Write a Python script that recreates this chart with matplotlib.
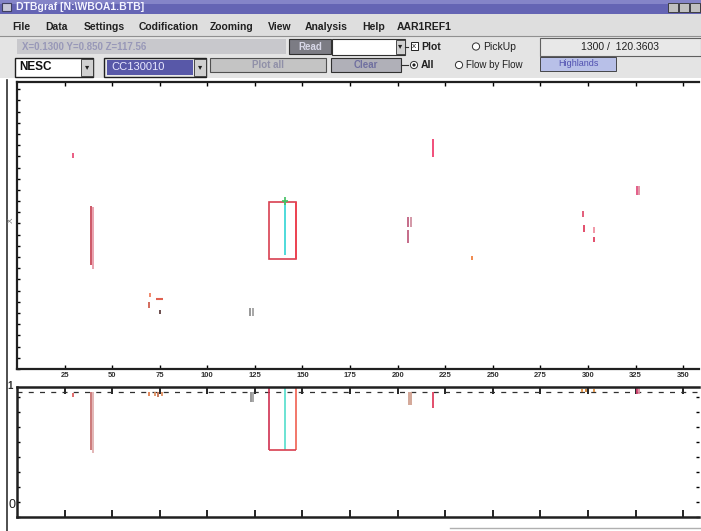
import matplotlib.pyplot as plt
from matplotlib.patches import Rectangle
import numpy as np

W, H = 701, 531

# x positions (flow distance) and vertical extents of the marks, upper panel
top_x = [29.2, 39.1, 40.0, 70.1, 69.6, 74.9, 122.6, 124.2, 141.0,
         218.7, 205.5, 207.0, 205.5, 239.2, 297.4, 298.0, 303.2, 303.4,
         325.8, 326.8]
top_y0 = [73.5, 36.2, 35.0, 25.1, 21.3, 19.2, 18.5, 18.5, 39.7,
          73.9, 49.5, 49.5, 43.9, 38.0, 53.0, 47.7, 44.3, 47.5,
          60.6, 60.6]
top_y1 = [75.3, 56.8, 56.5, 26.5, 23.3, 20.6, 21.3, 21.3, 58.5,
          80.1, 53.0, 53.0, 48.4, 39.4, 55.0, 50.2, 46.0, 49.5,
          63.8, 63.8]
top_col = ['#e8507a', '#c84a5a', '#e89aa8', '#f08060', '#d06050', '#604040',
           '#909090', '#a0a0a0', '#40d8d8',
           '#f04070', '#c06080', '#d090a0', '#c06080', '#f08040',
           '#e05070', '#e04060', '#e04060', '#f090a0',
           '#e05080', '#e090a0']

# short horizontal dash next to the orange cluster
dash_x0, dash_x1, dash_y = 72.8, 76.9, 24.4

# highlighted section (box) shown in both panels
box_x0, box_x1 = 132.6, 146.8
box_top_y0, box_top_y1 = 38.3, 58.2
box_bot_y0 = 51.5
cyan_x = 141.0

# lower panel marks hanging from the reference line
ref_y = 96.2
bot_x = [29.2, 39.1, 40.0, 69.5, 72.6, 74.0, 76.0, 123.0, 124.2, 141.0,
         206.0, 207.2, 218.7, 297.0, 299.0, 303.0, 325.8, 326.6]
bot_y0 = [92.3, 51.5, 49.0, 93.0, 93.0, 92.0, 93.0, 88.5, 88.5, 51.5,
          86.0, 86.0, 84.0, 96.0, 96.0, 96.0, 95.0, 95.0]
bot_y1 = [95.4, 96.2, 96.2, 96.2, 96.2, 96.2, 96.2, 96.2, 96.2, 100.0,
          96.2, 96.2, 96.2, 98.5, 98.5, 98.5, 100.0, 100.0]
bot_col = ['#e06060', '#c87070', '#e0b0b0', '#e08050', '#e09060', '#c07050',
           '#e09060', '#909090', '#a0a0a0', '#60e0d0',
           '#d0a090', '#d0a090', '#e04060', '#e09040', '#d08030', '#e09040',
           '#d04070', '#e090a0']

x_ticks = [25, 50, 75, 100, 125, 150, 175, 200, 225, 250, 275, 300, 325, 350]
x_labels = ['25', '50', '75', '100', '125', '150', '175', '200', '225',
            '250', '275', '300', '325', '350']

plt.rcParams['font.family'] = ['Liberation Sans', 'DejaVu Sans']

fig = plt.figure(figsize=(W / 100, H / 100), dpi=100)
fig.patch.set_facecolor('white')

# window chrome drawn in pixel units
ui = fig.add_axes([0, 0, 1, 1])
ui.set_xlim(0, W)
ui.set_ylim(H, 0)
ui.axis('off')


def box(x0, y0, x1, y1, fc, ec='none', lw=0.8):
    ui.add_patch(Rectangle((x0, y0), x1 - x0, y1 - y0, facecolor=fc,
                           edgecolor=ec, linewidth=lw))


def label(x, y, s, size=7.5, color='#202020', weight='bold', ha='left'):
    ui.text(x, y, s, fontsize=size, color=color, weight=weight, ha=ha,
            va='center')


# title bar
box(0, 0, W, 14, '#6464b4')
box(0, 0, W, 4, '#8484c8')
box(2, 3, 11, 11, '#c8c8d8', '#404060')
label(16, 7.5, 'DTBgraf [N:\\WBOA1.BTB]', size=7.5, color='#f4f4ff')
for bx in (668, 679, 690):
    box(bx, 3, bx + 10, 12, '#c0c0c0', '#303030', 0.6)

# menu bar
box(0, 14, W, 36, '#dedede')
ui.plot([0, W], [35.5, 35.5], color='#909090', lw=0.8)
menu = [('File', 12), ('Data', 45), ('Settings', 84), ('Codification', 139),
        ('Zooming', 210), ('View', 268), ('Analysis', 305), ('Help', 362),
        ('AAR1REF1', 397)]
for name, mx in menu:
    label(mx, 27, name, size=7.5)

# toolbar rows
box(0, 36, W, 78, '#e4e4e4')
box(17, 39, 286, 54, '#c8c8cc')
label(22, 46.5, 'X=0.1300 Y=0.850 Z=117.56', size=7, color='#9898b8')
box(289, 39, 331, 54, '#7c7c84', '#303030')
label(310, 46.5, 'Read', size=7, color='#d8d8e8', ha='center')
box(332, 39, 405, 55, 'white', '#303030')
box(396, 40, 405, 54, '#d0d0d0', '#303030', 0.6)
label(400.5, 46.5, '\u25be', size=6, ha='center')
ui.plot([405, 408], [47, 47], color='#303030', lw=0.8)
box(411, 42, 418, 50, 'white', '#202020', 0.7)
label(414.5, 46, 'x', size=6, ha='center', weight='normal')
label(421, 46.5, 'Plot', size=7.5)
ui.add_patch(plt.Circle((476, 46.5), 3.6, facecolor='white',
                        edgecolor='#303030', lw=0.7))
label(483, 46.5, 'PickUp', size=7.5, weight='normal')
box(540, 38, W, 56, '#e8e8e8', '#606060')
label(620, 46.5, '1300 /  120.3603', size=7.5, weight='normal', ha='center')

box(15, 58, 93, 77, 'white', '#202020', 1.0)
label(19, 67.5, 'NESC', size=8.5, color='#101010')
box(81, 59, 93, 76, '#d0d0d0', '#303030', 0.6)
label(87, 67.5, '\u25be', size=6, ha='center')
box(104, 58, 206, 77, '#e8e8e8', '#202020', 1.0)
box(107, 60, 193, 75, '#5858a8')
label(111, 67.5, 'CC130010', size=8, color='#e8e8ff', weight='normal')
box(194, 59, 206, 76, '#d0d0d0', '#303030', 0.6)
label(200, 67.5, '\u25be', size=6, ha='center')
box(210, 58, 326, 72, '#c4c4c4', '#505050')
label(268, 65, 'Plot all', size=7, color='#9090a8', ha='center')
box(331, 58, 401, 72, '#b0b0b8', '#303030')
label(366, 65, 'Clear', size=7, color='#7070a0', ha='center')
ui.plot([401, 408], [65, 65], color='#303030', lw=0.8)
ui.add_patch(plt.Circle((414, 65), 3.6, facecolor='white',
                        edgecolor='#303030', lw=0.7))
ui.add_patch(plt.Circle((414, 65), 1.6, facecolor='#202020'))
label(421, 65, 'All', size=7.5)
ui.add_patch(plt.Circle((459, 65), 3.6, facecolor='white',
                        edgecolor='#303030', lw=0.7))
label(466, 65, 'Flow by Flow', size=7, weight='normal')
box(540, 57, 616, 71, '#b8c0e8', '#303030', 0.6)
label(578, 64, 'Highlands', size=6.5, color='#5050b0', ha='center',
      weight='normal')

# outer frame line on the left and side texts
ui.plot([6.5, 6.5], [80, H], color='#303030', lw=1.2)
ui.text(11, 220, 'X', fontsize=6, color='#707070', ha='center', va='center',
        rotation=90)
ui.text(10, 386, '1', fontsize=7, color='#303030', ha='center', va='center',
        weight='bold')
ui.text(12, 505, '0', fontsize=9, color='#202020', ha='center', va='center')
ui.plot([450, W], [528, 528], color='#b0b0b0', lw=1.0)


def ax_rect(left, top, right, bottom):
    return [left / W, 1 - bottom / H, (right - left) / W, (bottom - top) / H]


xmax = (699 - 16.4) / 1.905

# upper panel
ax = fig.add_axes(ax_rect(17, 82, 699, 369))
ax.set_facecolor('none')
ax.set_xlim(0, xmax)
ax.set_ylim(0, 100)
ax.vlines(top_x, top_y0, top_y1, colors=top_col, lw=1.3)
ax.hlines(dash_y, dash_x0, dash_x1, colors='#e06050', lw=1.5)
ax.add_patch(Rectangle((box_x0, box_top_y0), box_x1 - box_x0,
                       box_top_y1 - box_top_y0, facecolor='none',
                       edgecolor='#d84050', lw=1.2))
ax.vlines(box_x1, box_top_y0, box_top_y1, colors='#f04050', lw=1.2)
ax.hlines(top_y1[8], cyan_x - 1.6, cyan_x + 1.6, colors='#40c060', lw=1.2)
ax.vlines(cyan_x, top_y1[8] - 1.5, top_y1[8] + 1.5, colors='#40c060', lw=1.2)
ax.set_xticks(x_ticks)
ax.set_xticklabels(x_labels)
ax.set_yticks(np.arange(0, 100, 3.9), minor=True)
ax.set_yticks([])
ax.tick_params(axis='x', direction='in', length=3, width=1, pad=2,
               labelsize=5.5, labelcolor='#303030', top=True)
ax.tick_params(axis='y', which='minor', direction='in', length=2.5, width=1)
for t in ax.get_xticklabels():
    t.set_fontweight('bold')
for side in ('left', 'bottom', 'top'):
    ax.spines[side].set_linewidth(1.6)
    ax.spines[side].set_color('#202020')
ax.spines['right'].set_visible(False)

# lower panel
bx = fig.add_axes(ax_rect(17, 387, 699, 517))
bx.set_facecolor('none')
bx.set_xlim(0, xmax)
bx.set_ylim(0, 100)
bx.axhline(ref_y, color='#303030', lw=0.9, ls=(0, (4, 5)))
bx.vlines(bot_x, bot_y0, bot_y1, colors=bot_col, lw=1.3)
bx.vlines(box_x0, box_bot_y0, 100, colors='#d03050', lw=1.2)
bx.vlines(box_x1, box_bot_y0, 100, colors='#f06050', lw=1.2)
bx.hlines(box_bot_y0, box_x0, box_x1, colors='#d84050', lw=1.2)
bx.set_xticks(x_ticks)
bx.set_xticklabels([])
bx.set_yticks(np.arange(0, 100, 11.5), minor=True)
bx.set_yticks([])
bx.tick_params(axis='x', direction='in', length=5, width=1.2, top=True)
bx.tick_params(axis='y', which='minor', direction='in', length=2.5, width=1,
               right=True)
for side in ('left', 'bottom', 'top'):
    bx.spines[side].set_linewidth(1.8)
    bx.spines[side].set_color('#202020')
bx.spines['right'].set_visible(False)

fig.savefig('out.png', dpi=100)
